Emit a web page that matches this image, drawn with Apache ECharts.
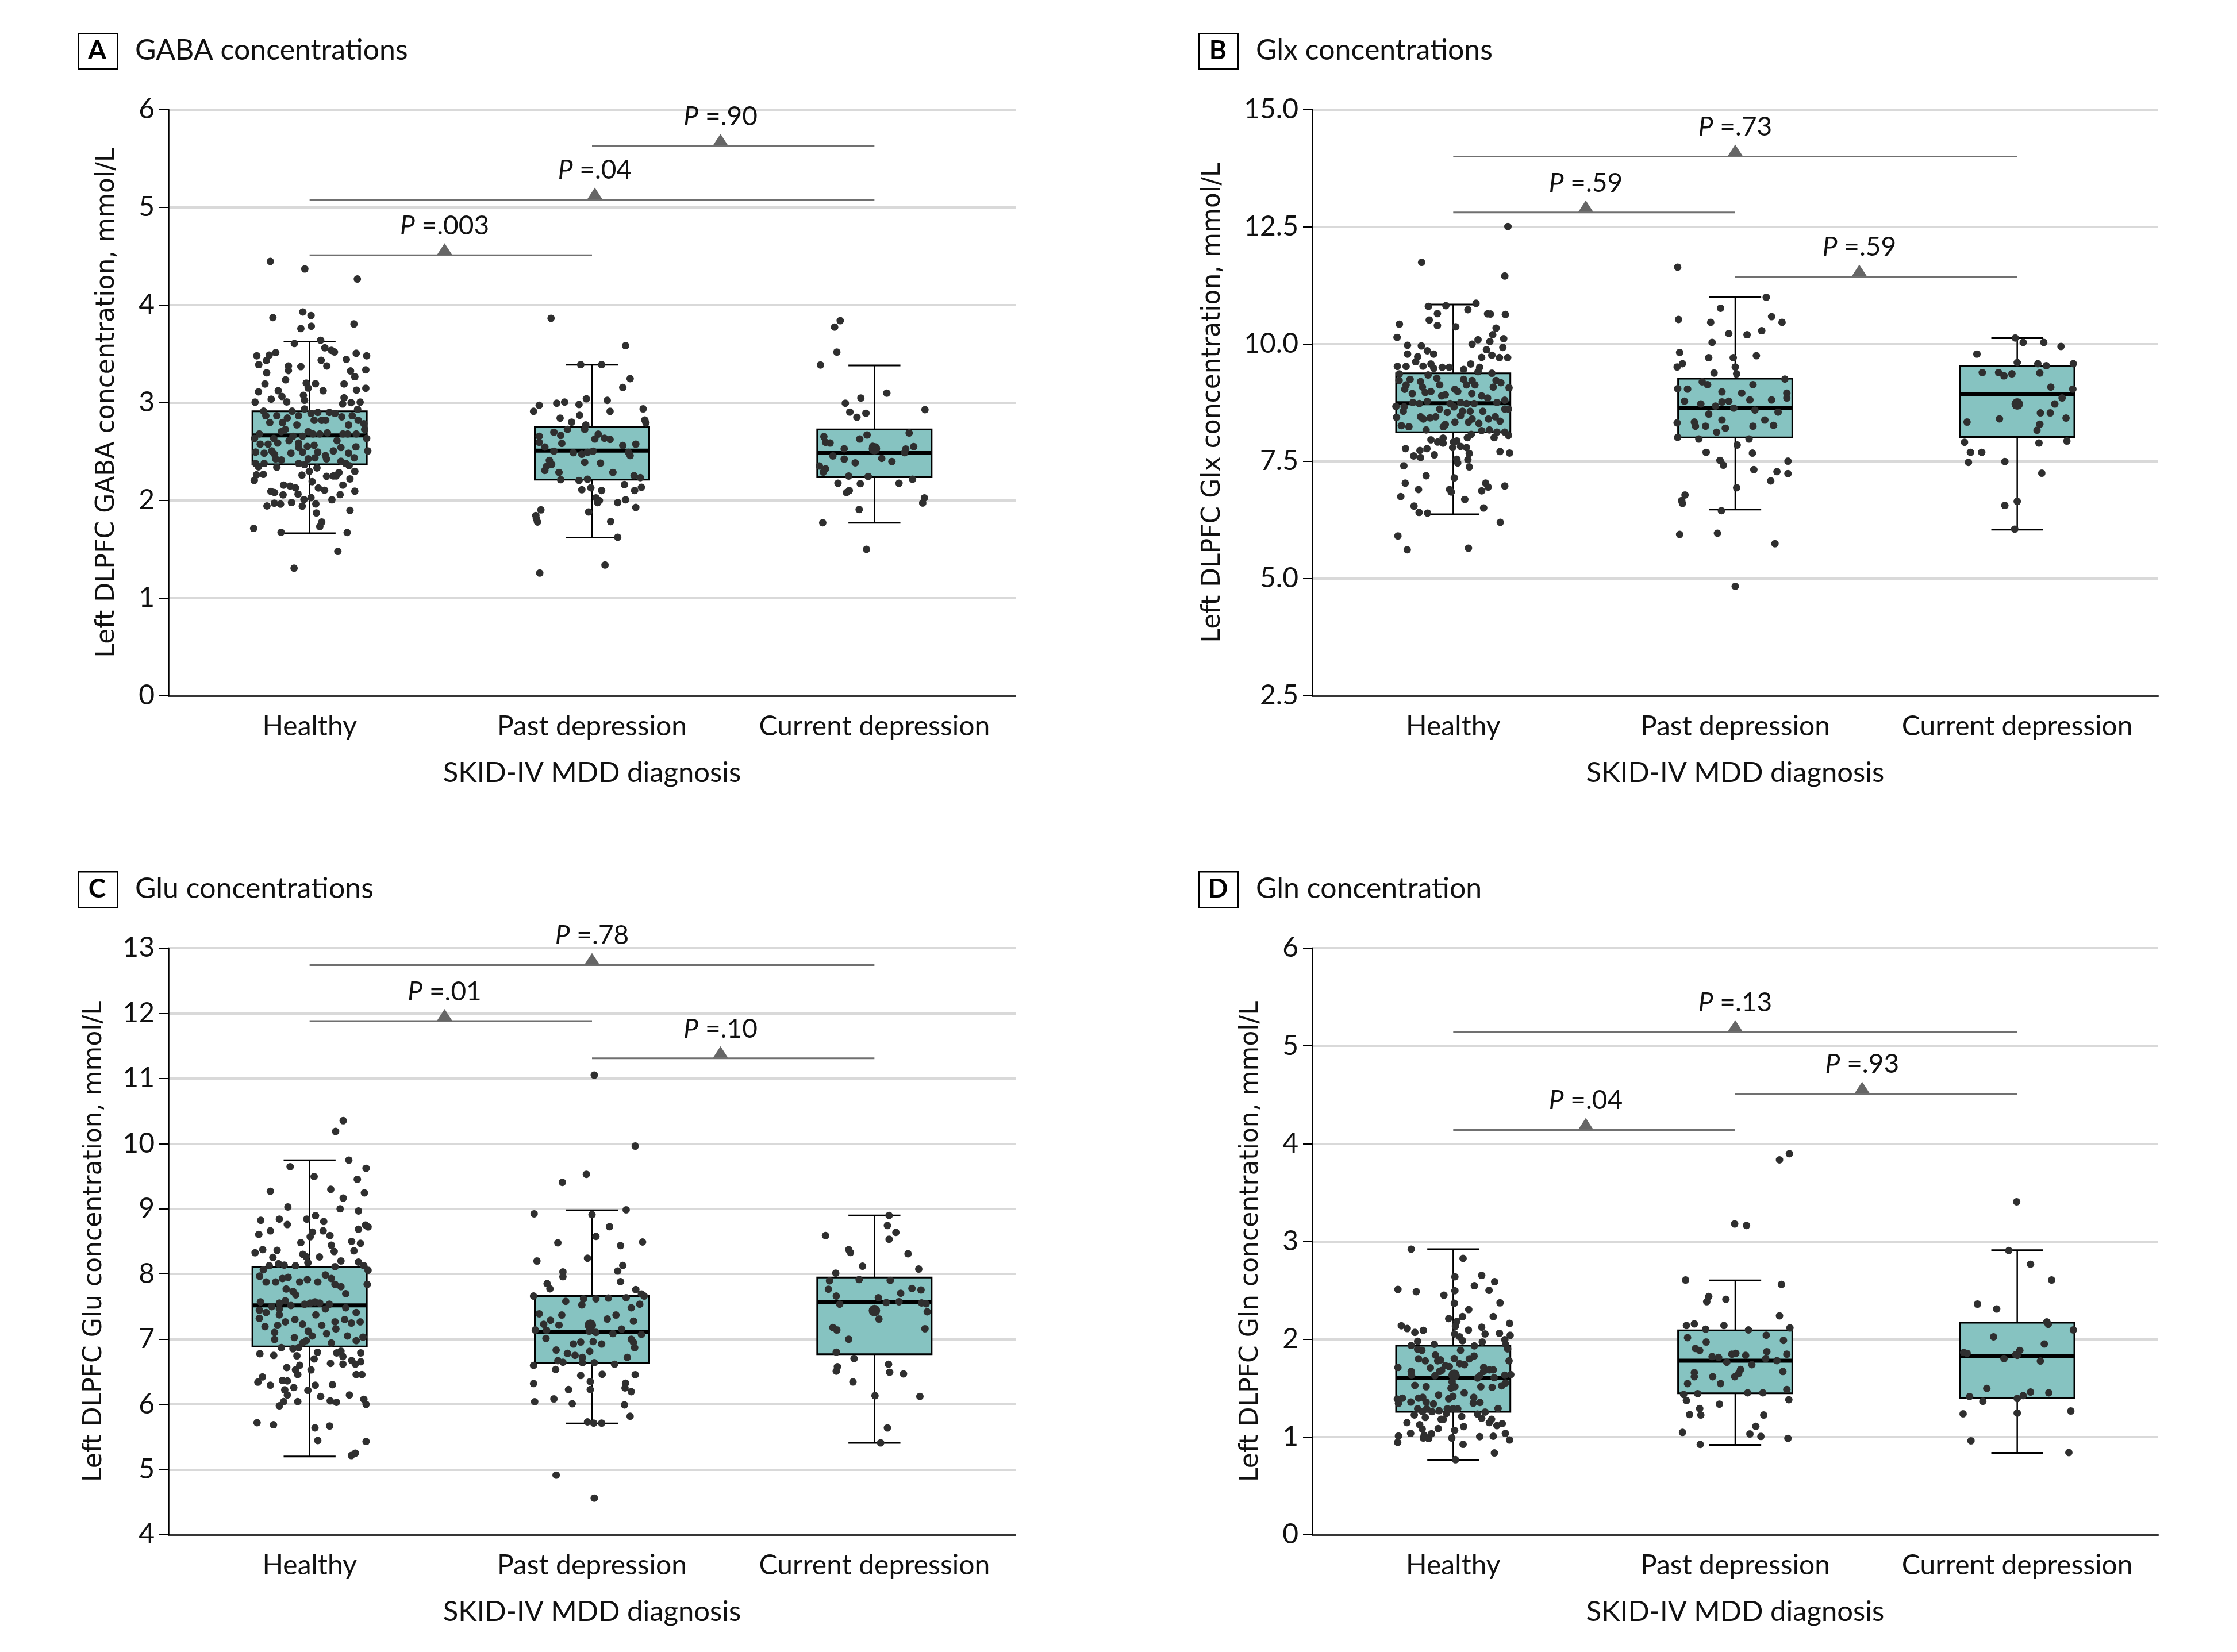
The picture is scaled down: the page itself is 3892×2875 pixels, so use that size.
<!DOCTYPE html>
<html><head><meta charset="utf-8">
<script src="https://cdn.jsdelivr.net/npm/echarts@6/dist/echarts.min.js"></script>
<style>html,body{margin:0;padding:0;background:#fff}#c{width:3892px;height:2875px}</style>
</head><body><div id="c"></div>
<script>
// ---------- DATA ----------
const categories = ['Healthy', 'Past depression', 'Current depression'];
const panelLetters = ['A', 'B', 'C', 'D'];
const panelTitles = ['GABA concentrations', 'Glx concentrations', 'Glu concentrations', 'Gln concentration'];
const yAxisTitles = [
  'Left DLPFC GABA concentration, mmol/L',
  'Left DLPFC Glx concentration, mmol/L',
  'Left DLPFC Glu concentration, mmol/L',
  'Left DLPFC Gln concentration, mmol/L'
];
const xAxisTitle = 'SKID-IV MDD diagnosis';
const yMin = [0, 2.5, 4, 0];
const yMax = [6, 15, 13, 6];
const yInterval = [1, 2.5, 1, 1];
const yDecimals = [0, 1, 0, 0];

// box stats per group: [lower whisker, Q1, median, Q3, upper whisker]
const gabaBox = [[1.665, 2.370, 2.666, 2.913, 3.626], [1.62, 2.213, 2.51, 2.753, 3.39], [1.772, 2.238, 2.485, 2.728, 3.383]];
const glxBox = [[6.372, 8.123, 8.741, 9.377, 10.845], [6.475, 8.012, 8.638, 9.265, 11.0], [6.046, 8.02, 8.939, 9.531, 10.13]];
const gluBox = [[5.2, 6.889, 7.52, 8.107, 9.746], [5.707, 6.635, 7.111, 7.662, 8.979], [5.41, 6.771, 7.569, 7.946, 8.899]];
const glnBox = [[0.767, 1.258, 1.604, 1.934, 2.92], [0.92, 1.447, 1.781, 2.091, 2.602], [0.837, 1.398, 1.831, 2.169, 2.911]];

// comparison brackets: [from group, to group, marker position, level, P value text]
const gabaBrackets = [[0, 1, 0.478, 4.51, '.003'], [0, 2, 1.01, 5.08, '.04'], [1, 2, 1.455, 5.63, '.90']];
const glxBrackets = [[0, 2, 1.0, 14.0, '.73'], [0, 1, 0.47, 12.81, '.59'], [1, 2, 1.44, 11.44, '.59']];
const gluBrackets = [[0, 2, 1.0, 12.74, '.78'], [0, 1, 0.478, 11.88, '.01'], [1, 2, 1.455, 11.31, '.10']];
const glnBrackets = [[0, 2, 1.0, 5.14, '.13'], [1, 2, 1.45, 4.51, '.93'], [0, 1, 0.47, 4.14, '.04']];

// individual participants: [jitter within group, concentration]
const gabaHealthy = [[-0.139,4.447],[-0.017,4.37],[0.169,4.267],[-0.13,3.872],[-0.024,3.93],[0.005,3.893],[-0.031,3.76],[0.006,3.784],[0.157,3.807],[-0.054,3.607],[0.039,3.64],[0.054,3.563],[0.077,3.537],[0.088,3.52],[-0.187,3.481],[-0.143,3.488],[-0.12,3.514],[-0.18,3.391],[-0.153,3.433],[0.165,3.507],[0.202,3.481],[0.13,3.444],[-0.075,3.377],[-0.075,3.33],[-0.031,3.37],[0.041,3.435],[0.061,3.377],[-0.152,3.307],[0.145,3.326],[0.16,3.267],[0.199,3.337],[-0.085,3.235],[-0.158,3.193],[-0.012,3.202],[-0.005,3.151],[0.021,3.195],[0.048,3.123],[0.122,3.193],[0.166,3.13],[0.199,3.149],[-0.181,3.112],[-0.111,3.123],[-0.098,3.065],[-0.136,3.037],[-0.193,3.007],[-0.081,3.009],[-0.022,3.077],[-0.018,3.026],[0.122,3.051],[0.117,2.988],[0.147,3.002],[0.179,3.007],[0.17,2.933],
[-0.163,2.914],[-0.155,2.867],[-0.141,2.798],[-0.116,2.867],[-0.096,2.798],[-0.079,2.844],[-0.062,2.914],[-0.039,2.867],[-0.045,2.774],[-0.018,2.937],[0.005,2.891],[0.016,2.821],[0.029,2.902],[0.043,2.821],[0.057,2.821],[0.07,2.902],[0.09,2.891],[0.114,2.856],[0.138,2.774],[0.151,2.867],[0.172,2.821],[0.192,2.786],[0.195,2.728],[-0.086,2.728],[-0.1,2.705],[-0.127,2.635],[-0.178,2.681],[-0.195,2.635],[-0.175,2.577],[-0.147,2.577],[-0.113,2.588],[-0.073,2.612],[-0.059,2.658],[-0.039,2.588],[-0.025,2.658],[-0.005,2.705],[0.012,2.681],[0.036,2.681],[0.063,2.693],[0.097,2.612],[0.118,2.681],[0.135,2.681],[0.165,2.681],[0.202,2.635],[0.206,2.507],[0.164,2.549],[0.138,2.484],[0.111,2.542],[0.084,2.507],[0.056,2.46],[0.029,2.495],[0.016,2.565],[-0.008,2.553],[-0.025,2.495],[-0.039,2.542],[-0.066,2.484],[-0.1,2.414],[-0.124,2.472],[-0.134,2.507],[-0.161,2.484],[-0.191,2.495],[-0.191,2.379],[-0.161,2.379],[-0.12,2.426],[-0.039,2.379],[-0.018,2.367],[-0.005,2.426],[0.019,2.437],[0.06,2.426],[0.111,2.402],[0.128,2.379],[0.158,2.437],
[-0.181,2.344],[-0.164,2.267],[-0.196,2.205],[-0.188,2.263],[-0.116,2.34],[-0.027,2.26],[-0.001,2.298],[0.026,2.333],[0.009,2.193],[0.06,2.247],[0.084,2.251],[0.094,2.251],[0.104,2.286],[0.118,2.158],[0.143,2.221],[0.16,2.298],[0.14,2.356],[-0.092,2.158],[-0.069,2.147],[-0.05,2.13],[-0.137,2.093],[-0.124,2.081],[-0.094,2.058],[-0.041,2.065],[0.031,2.128],[0.053,2.105],[0.16,2.095],[0.108,2.06],[-0.151,1.944],[-0.125,1.972],[-0.103,1.963],[-0.064,1.979],[-0.026,1.942],[-0.02,2.009],[0.005,2.03],[0.022,1.965],[0.079,2.007],[0.143,1.898],[0.024,1.872],[0.043,1.779],[0.036,1.733],[-0.198,1.714],[-0.101,1.674],[0.133,1.672],[0.1,1.479],[-0.055,1.307]];
const gabaPast = [[-0.145,3.865],[0.119,3.585],[-0.04,3.391],[0.034,3.391],[0.135,3.247],[0.109,3.157],[-0.207,2.913],[-0.187,2.975],[-0.125,2.996],[-0.097,3.008],[-0.046,2.983],[-0.02,3.041],[0.054,3.025],[0.064,2.913],[-0.044,2.872],[-0.113,2.843],[0.181,2.938],[0.187,2.823],[0.191,2.794],[-0.072,2.802],[-0.022,2.773],[-0.026,2.728],[-0.087,2.728],[-0.135,2.699],[-0.187,2.658],[-0.111,2.666],[0.022,2.679],[0.044,2.637],[0.064,2.625],[0.01,2.629],[-0.187,2.596],[-0.107,2.584],[0.155,2.576],[0.109,2.563],[-0.167,2.547],[-0.135,2.505],[-0.066,2.489],[-0.036,2.473],[-0.016,2.493],[0.004,2.505],[0.129,2.493],[0.135,2.46],[-0.151,2.411],[-0.143,2.37],[-0.161,2.349],[-0.167,2.308],[-0.026,2.39],[0.03,2.382],[0.074,2.287],[-0.117,2.287],[0.149,2.254],[0.171,2.234],[-0.111,2.213],[-0.046,2.205],[-0.016,2.217],[0.115,2.163],[-0.036,2.11],[-0.004,2.13],[0.034,2.102],[0.151,2.102],[0.175,2.135],[0.014,2.027],[0.026,1.999],[0.02,1.978],[0.091,1.978],[0.119,2.007],[0.155,1.929],[-0.181,1.904],[-0.012,1.883],[-0.199,1.846],[-0.197,1.813],[-0.193,1.78],[0.066,1.784],[0.091,1.624],[0.046,1.339],[-0.185,1.257]];
const gabaCurrent = [[-0.121,3.841],[-0.141,3.775],[-0.133,3.519],[-0.191,3.387],[0.044,3.099],[-0.103,2.996],[-0.048,3.049],[-0.087,2.905],[-0.062,2.852],[-0.03,2.893],[0.179,2.93],[0.123,2.691],[-0.026,2.67],[-0.052,2.629],[-0.179,2.654],[-0.173,2.596],[-0.157,2.588],[-0.107,2.53],[-0.006,2.555],[0.004,2.538],[0.111,2.526],[0.139,2.551],[0.107,2.489],[-0.147,2.456],[-0.107,2.423],[-0.068,2.386],[0.026,2.431],[0.062,2.398],[-0.195,2.353],[-0.173,2.324],[-0.181,2.291],[-0.091,2.25],[-0.022,2.246],[0.135,2.217],[-0.129,2.176],[-0.05,2.172],[0.087,2.176],[-0.089,2.102],[-0.099,2.081],[0.177,2.027],[0.171,1.974],[-0.054,1.908],[-0.183,1.772],[-0.028,1.5]];

const glxHealthy = [[0.194,12.51],[-0.112,11.745],[0.183,11.454],[-0.088,10.807],[-0.026,10.821],[0.052,10.736],[0.081,10.872],[-0.056,10.652],[-0.085,10.516],[-0.056,10.399],[0.009,10.371],[0.122,10.647],[0.132,10.643],[0.185,10.633],[-0.191,10.427],[-0.199,10.145],[-0.162,9.977],[-0.113,9.962],[-0.092,9.859],[-0.069,9.789],[-0.162,9.789],[-0.126,9.733],[-0.133,9.625],[-0.107,9.531],[-0.079,9.578],[-0.069,9.484],[-0.198,9.526],[-0.167,9.526],[-0.039,9.507],[-0.014,9.507],[0.067,10.0],[0.088,10.094],[0.152,10.342],[0.14,10.202],[0.13,10.056],[0.179,10.117],[0.118,9.883],[0.101,9.719],[0.137,9.765],[0.164,9.714],[0.193,9.714],[0.176,9.93],[0.062,9.578],[0.037,9.461],[0.094,9.507],[0.088,9.414],[0.137,9.38],
[-0.191,9.367],[-0.192,9.226],[-0.153,9.25],[-0.167,9.132],[-0.172,9.038],[-0.145,8.945],[-0.116,9.203],[-0.109,9.085],[-0.099,8.968],[-0.079,8.992],[-0.089,9.343],[-0.058,9.273],[-0.048,9.132],[-0.041,8.898],[-0.028,8.921],[0.006,9.038],[0.016,8.992],[0.037,9.25],[0.047,9.132],[0.067,9.226],[0.077,9.132],[0.066,8.945],[0.101,8.898],[0.122,8.851],[0.142,9.085],[0.152,9.226],[0.169,9.179],[0.198,9.071],[0.183,8.804],[0.155,8.757],[-0.143,8.757],[-0.12,8.734],[-0.092,8.781],[-0.011,8.734],[0.003,8.663],[0.026,8.757],[0.047,8.734],[0.074,8.734],[-0.203,8.673],[-0.174,8.663],[-0.177,8.569],[-0.201,8.438],[-0.116,8.452],[-0.106,8.405],[-0.082,8.429],[-0.062,8.452],[-0.048,8.616],[-0.021,8.546],[0.006,8.335],[0.026,8.475],[0.033,8.569],[0.06,8.569],[0.054,8.335],[0.067,8.405],[0.105,8.569],[0.125,8.405],[0.149,8.452],[0.166,8.358],[0.183,8.616],[0.196,8.616],[-0.184,8.264],[-0.157,8.241],[-0.096,8.171],[-0.035,8.241],[-0.028,8.288],[0.091,8.311],[0.101,8.157],[0.128,8.171],[0.155,8.124],[0.183,8.124],[0.196,8.054],
[-0.079,7.96],[-0.055,7.913],[-0.036,7.997],[-0.036,7.889],[0.001,7.913],[0.013,7.936],[0.026,7.819],[0.047,7.795],[0.05,8.007],[0.064,8.077],[0.145,8.007],[0.166,7.711],[0.2,7.678],[-0.169,7.772],[-0.14,7.617],[-0.118,7.734],[-0.116,7.584],[-0.093,7.772],[-0.067,7.64],[-0.002,7.795],[0.013,7.547],[0.016,7.467],[0.057,7.669],[0.052,7.537],[0.057,7.383],[-0.175,7.406],[-0.096,7.195],[0.004,7.148],[-0.17,7.036],[-0.123,6.9],[-0.186,6.75],[-0.013,6.9],[-0.007,6.848],[0.041,6.689],[0.101,6.872],[0.115,7.036],[0.124,6.952],[0.183,6.975],[0.108,6.506],[-0.139,6.548],[-0.121,6.412],[-0.091,6.398],[0.167,6.201],[-0.196,5.911],[-0.163,5.616],[0.054,5.649]];
const glxPast = [[-0.204,11.643],[0.11,11.0],[-0.052,10.767],[-0.201,10.527],[-0.087,10.467],[0.129,10.587],[0.166,10.467],[-0.023,10.227],[0.042,10.201],[0.094,10.287],[-0.082,10.038],[-0.197,9.823],[-0.094,9.711],[-0.007,9.711],[0.075,9.754],[-0.206,9.514],[-0.187,9.583],[0,9.514],[-0.075,9.385],[0.005,9.368],[0.063,9.136],[0.176,9.256],[-0.204,9.051],[-0.169,9.042],[-0.117,9.197],[-0.098,9.136],[-0.047,8.982],[0.023,8.956],[0.183,8.956],[0.183,8.853],[0.129,8.81],[-0.18,8.784],[-0.122,8.724],[-0.07,8.681],[-0.047,8.767],[-0.023,8.784],[-0.005,8.638],[0.052,8.81],[0.152,8.552],[0.07,8.595],[-0.094,8.51],[-0.047,8.381],[-0.141,8.252],[-0.206,8.321],[-0.145,8.338],[-0.105,8.252],[-0.035,8.209],[0.063,8.252],[0.105,8.381],[0.136,8.269],[-0.066,8.123],[-0.204,8.012],[-0.129,7.977],[0.049,7.977],[0.007,7.849],[-0.103,7.694],[0.061,7.677],[-0.054,7.522],[-0.042,7.419],[0.187,7.505],[0.066,7.325],[0.148,7.282],[0.187,7.239],[0.126,7.084],[0.005,6.938],[-0.178,6.784],[-0.19,6.664],[-0.187,6.604],[-0.049,6.449],[-0.197,5.943],[-0.063,5.968],[0.141,5.745],[0,4.835]];
const glxCurrent = [[-0.007,10.132],[0.021,10.038],[0.094,10.038],[0.155,9.952],[-0.143,9.789],[0,9.608],[0.073,9.583],[0.103,9.54],[0.199,9.583],[-0.124,9.394],[-0.066,9.394],[-0.047,9.325],[-0.019,9.368],[0.08,9.385],[0.119,9.085],[0.197,9.042],[0.159,8.853],[0.133,8.724],[0.082,8.535],[0.117,8.535],[-0.063,8.407],[-0.178,8.338],[0.173,8.424],[0.08,8.295],[0.07,8.166],[-0.187,7.909],[0.077,7.891],[0.176,7.934],[-0.166,7.694],[-0.126,7.694],[-0.173,7.479],[-0.044,7.497],[0.087,7.248],[-0.044,6.561],[0,6.647],[-0.009,6.054]];

const gluHealthy = [[0.119,10.353],[0.092,10.187],[0.139,9.748],[-0.069,9.647],[0.2,9.622],[0.016,9.496],[0.169,9.453],[-0.139,9.27],[0.075,9.299],[0.194,9.245],[0.119,9.165],[-0.077,9.029],[0.108,9.0],[0.173,8.968],[-0.173,8.824],[-0.107,8.842],[-0.079,8.759],[-0.01,8.842],[0.021,8.896],[0.05,8.806],[-0.18,8.608],[-0.139,8.662],[0.048,8.662],[0.01,8.644],[0.002,8.572],[0.072,8.59],[0.173,8.687],[0.198,8.752],[0.207,8.723],[0.149,8.5],[0.18,8.471],[-0.031,8.482],[0.077,8.442],[0.087,8.345],[-0.193,8.327],[-0.166,8.374],[-0.115,8.363],[-0.13,8.255],[-0.024,8.302],[-0.012,8.266],[0.035,8.263],[0.157,8.356],[0.111,8.201],[0.173,8.183],[-0.143,8.129],[-0.11,8.158],[-0.09,8.137],[-0.05,8.129],[-0.006,8.173],[0.09,8.112],[0.192,8.129],[0.207,8.058],
[-0.164,8.065],[-0.177,7.968],[-0.154,7.878],[-0.12,7.878],[-0.096,7.932],[-0.076,7.95],[-0.059,7.734],[-0.049,7.68],[-0.083,7.77],[-0.035,7.878],[-0.008,7.914],[0.029,7.878],[0.056,7.986],[0.077,7.932],[0.09,7.842],[0.111,7.806],[0.128,7.698],[0.204,7.842],[-0.174,7.572],[-0.154,7.41],[-0.178,7.446],[-0.178,7.32],[-0.158,7.194],[-0.134,7.5],[-0.107,7.554],[-0.107,7.464],[-0.086,7.59],[-0.066,7.518],[-0.018,7.536],[0.002,7.554],[0.019,7.572],[0.036,7.554],[0.022,7.374],[0.07,7.536],[0.056,7.464],[0.128,7.482],[0.165,7.41],[0.179,7.266],[0.148,7.248],[0.124,7.302],[0.09,7.266],[0.093,7.158],[0.043,7.212],[0.06,7.086],[-0.025,7.23],[-0.005,7.122],[0.009,7.05],[-0.012,6.978],[-0.054,7.025],[-0.052,7.302],[-0.086,7.266],[-0.107,7.374],[-0.113,7.212],[-0.124,7.104],[-0.124,6.996],[-0.1,6.871],[-0.025,6.942],[0.077,6.942],[0.134,7.05],[0.165,6.978],[0.189,7.032],
[-0.176,6.777],[-0.127,6.752],[-0.059,6.853],[-0.045,6.745],[-0.039,6.871],[0.028,6.799],[0.016,6.698],[0.096,6.791],[0.111,6.817],[0.118,6.734],[0.118,6.619],[0.149,6.673],[0.162,6.619],[0.181,6.655],[0.181,6.791],[0.074,6.629],[-0.081,6.565],[-0.05,6.529],[-0.035,6.601],[-0.042,6.457],[0.005,6.529],[0.165,6.457],[0.185,6.457],[-0.183,6.342],[-0.167,6.421],[-0.139,6.295],[-0.096,6.367],[-0.079,6.36],[-0.088,6.223],[-0.079,6.144],[-0.056,6.259],[-0.006,6.216],[0.02,6.295],[0.081,6.302],[0.039,6.122],[0.141,6.144],[0.192,6.079],[0.2,6.0],[-0.107,5.978],[-0.092,6.043],[-0.042,6.043],[0.073,6.054],[0.095,6.032],[-0.186,5.719],[-0.128,5.687],[0.019,5.64],[0.071,5.669],[0.029,5.446],[0.2,5.432],[0.162,5.252],[0.148,5.216]];
const gluPast = [[0.008,11.051],[0.153,9.963],[-0.02,9.53],[-0.105,9.406],[-0.205,8.924],[0,8.911],[0.121,8.985],[0.062,8.726],[0.014,8.577],[-0.121,8.478],[0.179,8.491],[0.101,8.435],[-0.195,8.2],[-0.016,8.243],[0.109,8.132],[0.091,8.045],[-0.103,8.033],[-0.103,7.959],[0.101,7.884],[-0.159,7.854],[-0.149,7.773],[0.155,7.761],[0.175,7.693],[0.185,7.662],[-0.207,7.662],[-0.03,7.619],[0.014,7.619],[0.058,7.631],[0.121,7.637],[-0.093,7.581],[-0.036,7.526],[0.139,7.482],[0.169,7.538],[-0.187,7.39],[-0.107,7.371],[0.085,7.371],[-0.147,7.291],[0.054,7.309],[0.147,7.278],[-0.171,7.229],[-0.117,7.216],[0.105,7.155],[-0.201,7.142],[-0.161,7.136],[-0.01,7.124],[0.014,7.105],[0.074,7.087],[0.175,7.074],[-0.163,7.012],[0.139,7.0],[0.004,6.963],[0.147,6.951],[-0.066,6.926],[-0.04,6.957],[0.034,6.926],[0.151,6.87],[-0.127,6.833],[-0.087,6.783],[-0.008,6.814],[-0.06,6.753],[-0.034,6.722],[0.125,6.722],[-0.121,6.672],[-0.103,6.647],[-0.034,6.641],[0.008,6.641],[0.08,6.616],[-0.207,6.598],[-0.129,6.536],[-0.04,6.443],[0.036,6.462],[0.153,6.456],[-0.006,6.35],[0.119,6.326],[-0.207,6.32],[0.117,6.252],[-0.006,6.227],[-0.083,6.227],[0.139,6.196],[-0.203,6.041],[-0.135,6.084],[-0.07,6.01],[0.115,5.992],[0.135,5.818],[-0.016,5.732],[0.006,5.713],[0.034,5.713],[-0.127,4.915],[0.008,4.563]];
const gluCurrent = [[0.052,8.899],[0.046,8.744],[-0.173,8.59],[0.076,8.639],[0.052,8.534],[-0.091,8.373],[-0.085,8.33],[0.119,8.311],[-0.042,8.12],[0.157,8.076],[-0.137,8.014],[-0.159,7.897],[-0.054,7.915],[0.056,7.903],[-0.163,7.767],[0.133,7.779],[0.165,7.755],[0.093,7.705],[-0.135,7.662],[0.014,7.637],[-0.123,7.538],[0.042,7.563],[0.087,7.575],[0.167,7.557],[0.183,7.544],[0.187,7.421],[0.016,7.309],[-0.147,7.179],[-0.133,7.142],[0.179,7.161],[-0.091,7.0],[-0.135,6.802],[-0.072,6.703],[-0.131,6.579],[-0.135,6.511],[0.05,6.616],[0.054,6.493],[0.103,6.468],[-0.076,6.344],[0.002,6.134],[0.161,6.122],[0.046,5.639],[0.022,5.41]];

const glnHealthy = [[-0.149,2.921],[0.035,2.827],[0.006,2.639],[0.101,2.653],[0.147,2.588],[-0.196,2.509],[-0.131,2.486],[-0.033,2.45],[0.006,2.496],[0.075,2.547],[0.127,2.5],[0.004,2.368],[0.166,2.372],[0.055,2.303],[-0.016,2.211],[0.033,2.231],[0.142,2.231],[0.013,2.182],[0.008,2.133],[-0.184,2.138],[-0.163,2.109],[-0.136,2.07],[-0.106,2.091],[0.054,2.093],[0.101,2.123],[0.113,2.054],[0.2,2.162],[0.164,2.06],[0.202,2.04],[0.005,2.054],[0.023,2.025],[0.033,1.985],[-0.126,1.979],[-0.149,1.936],[-0.067,1.948],[0.075,1.932],[0.103,1.972],[0.183,1.995],[0.186,1.946],[0.193,1.901],[-0.126,1.897],[-0.111,1.887],[0.026,1.887],[-0.063,1.838],[-0.196,1.711],[-0.123,1.799],[-0.099,1.779],[-0.081,1.707],[-0.055,1.779],[-0.045,1.789],[-0.041,1.681],[-0.028,1.73],[-0.014,1.72],[0.004,1.803],[0.023,1.75],[0.04,1.74],[0.057,1.799],[0.074,1.828],[0.108,1.711],[0.108,1.671],[0.128,1.687],[0.142,1.687],[0.198,1.779],[-0.149,1.671],[-0.148,1.632],[-0.065,1.626],[-0.048,1.671],[-0.004,1.563],[-0.008,1.5],[0.006,1.514],[0.086,1.603],[0.094,1.626],[0.145,1.606],[0.183,1.632],[0.204,1.638],[-0.096,1.514],[-0.136,1.528],[0.098,1.514],[0.138,1.508],[0.172,1.524],[0.186,1.553],[-0.052,1.43],[-0.016,1.391],[-0.001,1.416],[0.039,1.451],[-0.198,1.387],[-0.18,1.397],[-0.15,1.357],[-0.194,1.343],[-0.123,1.397],[-0.108,1.406],[-0.096,1.357],[-0.07,1.338],[0.073,1.406],[0.071,1.347],[0.095,1.353],[-0.126,1.289],[-0.109,1.259],[-0.099,1.2],[-0.094,1.289],[-0.075,1.259],[-0.05,1.269],[-0.035,1.181],[-0.024,1.24],[-0.021,1.289],[-0.001,1.289],[0.016,1.289],[0.086,1.234],[0.101,1.191],[0.113,1.255],[0.159,1.292],[-0.138,1.226],[-0.164,1.147],[-0.119,1.126],[-0.11,1.082],[-0.053,1.086],[-0.043,1.181],[0.03,1.21],[0.037,1.106],[0.128,1.147],[0.136,1.181],[0.155,1.116],[0.174,1.137],[-0.151,1.037],[-0.103,1.018],[-0.106,0.99],[-0.087,0.984],[-0.077,1.033],[0.005,1.067],[-0.005,0.99],[0.094,1.004],[0.142,1.008],[0.185,1.037],[-0.194,1.01],[-0.197,0.945],[0.2,0.969],[0.035,0.925],[0.146,0.837],[0.008,0.768]];
const glnPast = [[0.192,3.897],[0.157,3.835],[-0.002,3.179],[0.04,3.163],[-0.176,2.606],[0.164,2.561],[-0.094,2.437],[-0.101,2.384],[-0.033,2.408],[0.157,2.239],[-0.173,2.14],[-0.145,2.157],[-0.105,2.103],[-0.04,2.14],[0.047,2.095],[0.194,2.115],[0.11,2.041],[0.171,1.988],[-0.169,2.016],[-0.103,1.971],[-0.141,1.905],[-0.126,1.885],[0.112,1.872],[0.183,1.847],[-0.012,1.847],[0.002,1.856],[0.037,1.835],[-0.082,1.823],[-0.059,1.814],[-0.03,1.765],[0.059,1.74],[0.108,1.802],[0.148,1.781],[0.019,1.691],[0.012,1.649],[-0.145,1.658],[0.169,1.67],[-0.145,1.616],[-0.08,1.616],[-0.002,1.616],[-0.169,1.546],[-0.052,1.546],[0.183,1.485],[-0.133,1.443],[-0.183,1.435],[0.044,1.452],[0.098,1.452],[-0.173,1.373],[0.19,1.381],[-0.056,1.336],[-0.126,1.291],[-0.162,1.229],[-0.122,1.225],[0.101,1.225],[0.073,1.109],[0.052,1.031],[-0.187,1.047],[0.091,1.006],[0.187,0.986],[-0.124,0.924]];
const glnCurrent = [[-0.002,3.406],[-0.03,2.907],[0.047,2.767],[0.122,2.606],[-0.141,2.359],[-0.073,2.309],[0.105,2.177],[0.11,2.153],[0.199,2.095],[-0.084,2.025],[0.096,1.951],[-0.19,1.864],[-0.178,1.856],[0.009,1.885],[-0.005,1.843],[0,1.835],[-0.047,1.802],[0.082,1.777],[-0.108,1.497],[0.047,1.46],[0.112,1.452],[-0.169,1.414],[0,1.394],[0.021,1.423],[-0.122,1.365],[-0.192,1.237],[0,1.245],[0.19,1.266],[-0.164,0.961],[0.183,0.841]];

// overlapping (enlarged) markers: [group, jitter, concentration]
const gabaLarge = [[2, 0.0, 2.53]];
const glxLarge = [[2, 0.0, 8.724]];
const gluLarge = [[1, -0.006, 7.216], [2, 0.0, 7.439]];
const glnLarge = [[0, 0.003, 1.632]];

// ---------- BUILD ----------
const panels = [
  {box: gabaBox, br: gabaBrackets, pts: [gabaHealthy, gabaPast, gabaCurrent], big: gabaLarge},
  {box: glxBox, br: glxBrackets, pts: [glxHealthy, glxPast, glxCurrent], big: glxLarge},
  {box: gluBox, br: gluBrackets, pts: [gluHealthy, gluPast, gluCurrent], big: gluLarge},
  {box: glnBox, br: glnBrackets, pts: [glnHealthy, glnPast, glnCurrent], big: glnLarge}
];
const gridPos = [
  {left: 293, top: 191, width: 1474, height: 1020},
  {left: 2283, top: 191, width: 1472, height: 1020},
  {left: 293, top: 1650, width: 1474, height: 1021},
  {left: 2283, top: 1650, width: 1472, height: 1021}
];
const labelLeft = [135, 2085, 135, 2085];
const yNameGap = [84, 150, 106, 84];
const FONT = 'Lato';
const BOXFILL = '#86c3c1';
const DOT = '#2f2f2f';

const grids = [], xAxes = [], yAxes = [], series = [], graphics = [];
panels.forEach((p, k) => {
  grids.push(Object.assign({containLabel: false}, gridPos[k]));
  xAxes[k] = {
    type: 'category', gridIndex: k, data: categories, boundaryGap: true,
    axisLine: {onZero: false, lineStyle: {color: '#000', width: 2.5}},
    axisTick: {alignWithLabel: true, length: 16, lineStyle: {color: '#000', width: 2}},
    axisLabel: {interval: 0, hideOverlap: false, fontFamily: FONT, fontSize: 48, color: '#111', margin: 30},
    splitLine: {show: false},
    name: xAxisTitle, nameLocation: 'middle', nameGap: 110,
    nameTextStyle: {fontFamily: FONT, fontSize: 49, color: '#111'}
  };
  xAxes[4 + k] = {type: 'value', gridIndex: k, min: -0.5, max: 2.5, show: false,
    axisLine: {show: false, onZero: false}, splitLine: {show: false}};
  yAxes.push({
    type: 'value', gridIndex: k, min: yMin[k], max: yMax[k], interval: yInterval[k],
    axisLine: {show: true, onZero: false, lineStyle: {color: '#000', width: 2.5}},
    axisTick: {show: true, length: 16, lineStyle: {color: '#000', width: 2}},
    axisLabel: {fontFamily: FONT, fontSize: 48, color: '#111', margin: 24,
      formatter: v => v.toFixed(yDecimals[k])},
    splitLine: {show: true, lineStyle: {color: '#d9d9d9', width: 4}},
    name: yAxisTitles[k], nameLocation: 'middle', nameGap: yNameGap[k],
    nameTextStyle: {fontFamily: 'DejaVu Sans', fontSize: 44, color: '#111'}
  });

  // boxes
  series.push({
    type: 'custom', xAxisIndex: 4 + k, yAxisIndex: k, z: 2, silent: true,
    data: p.box.map((b, i) => [i].concat(b)),
    renderItem: (params, api) => {
      const x = api.value(0);
      const lo = api.coord([x, api.value(1)]);
      const q1 = api.coord([x, api.value(2)]);
      const md = api.coord([x, api.value(3)]);
      const q3 = api.coord([x, api.value(4)]);
      const hi = api.coord([x, api.value(5)]);
      const half = api.size([0.2025, 0])[0];
      const cap = api.size([0.092, 0])[0];
      const cx = lo[0];
      const ln = (x1, y1, x2, y2, w) => ({type: 'line', shape: {x1, y1, x2, y2}, style: {stroke: '#000', lineWidth: w}});
      return {type: 'group', children: [
        ln(cx, q3[1], cx, hi[1], 2.5),
        ln(cx, q1[1], cx, lo[1], 2.5),
        ln(cx - cap, hi[1], cx + cap, hi[1], 3),
        ln(cx - cap, lo[1], cx + cap, lo[1], 3),
        {type: 'rect', shape: {x: cx - half, y: q3[1], width: 2 * half, height: q1[1] - q3[1]},
          style: {fill: BOXFILL, stroke: '#000', lineWidth: 3}},
        ln(cx - half, md[1], cx + half, md[1], 7)
      ]};
    }
  });

  // points
  const pts = [];
  p.pts.forEach((grp, i) => grp.forEach(d => pts.push([i + d[0], d[1]])));
  series.push({
    type: 'scatter', xAxisIndex: 4 + k, yAxisIndex: k, z: 3, silent: true,
    symbol: 'circle', symbolSize: 13, itemStyle: {color: DOT, opacity: 1},
    data: pts
  });
  series.push({
    type: 'scatter', xAxisIndex: 4 + k, yAxisIndex: k, z: 3, silent: true,
    symbol: 'circle', symbolSize: 20, itemStyle: {color: DOT, opacity: 1},
    data: p.big.map(d => [d[0] + d[1], d[2]])
  });

  // comparison brackets
  const br = p.br;
  series.push({
    type: 'custom', xAxisIndex: 4 + k, yAxisIndex: k, z: 4, silent: true, clip: false,
    data: br.map(b => [b[0], b[1], b[2], b[3]]),
    renderItem: (params, api) => {
      const a = api.coord([api.value(0), api.value(3)]);
      const b = api.coord([api.value(1), api.value(3)]);
      const t = api.coord([api.value(2), api.value(3)]);
      const label = br[params.dataIndex][4];
      return {type: 'group', children: [
        {type: 'line', shape: {x1: a[0], y1: a[1], x2: b[0], y2: b[1]}, style: {stroke: '#707070', lineWidth: 3}},
        {type: 'polygon', shape: {points: [[t[0] - 13, t[1] - 1], [t[0] + 13, t[1] - 1], [t[0], t[1] - 21]]},
          style: {fill: '#666'}},
        {type: 'text', x: t[0], y: t[1] - 28, style: {
          text: '{i|P} =' + label, align: 'center', verticalAlign: 'bottom',
          fontFamily: FONT, fontSize: 46, fill: '#111',
          rich: {i: {fontFamily: FONT, fontSize: 46, fontStyle: 'italic', fill: '#111'}}
        }}
      ]};
    }
  });

  // panel label + title
  const lx = labelLeft[k];
  const ly = gridPos[k].top - 134;
  graphics.push({type: 'rect', left: lx, top: ly, shape: {width: 68, height: 62},
    style: {fill: '#fff', stroke: '#000', lineWidth: 2.5}});
  graphics.push({type: 'text', x: lx + 34, y: ly + 31, style: {text: panelLetters[k],
    fontFamily: FONT, fontWeight: 'bold', fontSize: 46, fill: '#000', align: 'center', verticalAlign: 'middle'}});
  graphics.push({type: 'text', x: lx + 100, y: ly + 31, style: {text: panelTitles[k],
    fontFamily: FONT, fontSize: 50, fill: '#111', align: 'left', verticalAlign: 'middle'}});
});

const chart = echarts.init(document.getElementById('c'), null, {renderer: 'canvas'});
chart.setOption({
  animation: false,
  backgroundColor: '#fff',
  grid: grids,
  xAxis: xAxes,
  yAxis: yAxes,
  series: series,
  graphic: graphics
});
</script></body></html>
